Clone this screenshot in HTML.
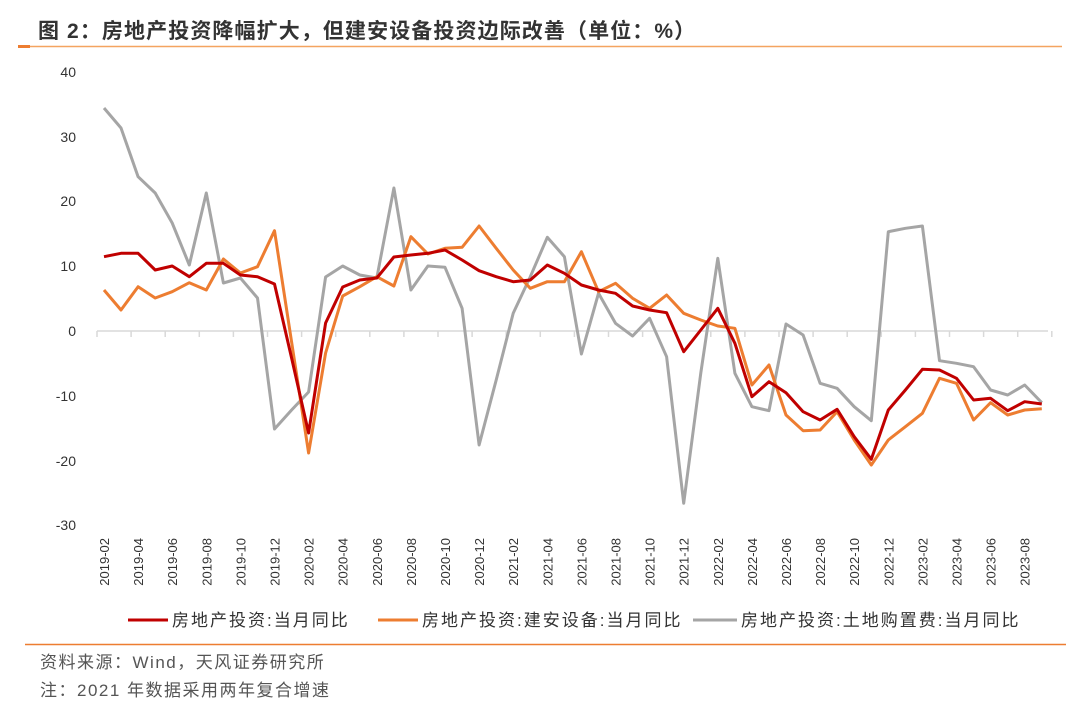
<!DOCTYPE html>
<html><head><meta charset="utf-8"><style>
html,body{margin:0;padding:0;background:#fff;}
svg{display:block;font-family:"Liberation Sans","Noto Sans CJK SC",sans-serif;}
</style></head><body>
<svg id="s" width="1080" height="709" viewBox="0 0 1080 709" xmlns="http://www.w3.org/2000/svg">
<text x="38" y="38" font-size="21" font-weight="bold" fill="#333" letter-spacing="1.1">图 2：房地产投资降幅扩大，但建安设备投资边际改善（单位：%）</text>
<line x1="18" y1="46.5" x2="1062" y2="46.5" stroke="#f4a460" stroke-width="1.5"/>
<line x1="18" y1="46.5" x2="30" y2="46.5" stroke="#ed7d31" stroke-width="3"/>
<g font-size="14" fill="#333" text-anchor="end">
<text x="76" y="77">40</text><text x="76" y="142">30</text><text x="76" y="206">20</text><text x="76" y="271">10</text><text x="76" y="336">0</text><text x="76" y="401">-10</text><text x="76" y="466">-20</text><text x="76" y="530">-30</text>
</g>
<line x1="97" y1="331" x2="1048" y2="331" stroke="#d9d9d9" stroke-width="1.5"/>
<g id="ticks"></g>
<g id="lab" font-size="13" fill="#333" text-anchor="end"></g>
<g id="series"></g>
<g font-size="17" fill="#333" letter-spacing="2">
<line x1="128" y1="620" x2="168" y2="620" stroke="#c00000" stroke-width="3"/>
<text x="172" y="626">房地产投资:当月同比</text>
<line x1="378" y1="620" x2="418" y2="620" stroke="#ed7d31" stroke-width="3"/>
<text x="422" y="626">房地产投资:建安设备:当月同比</text>
<line x1="693" y1="620" x2="737" y2="620" stroke="#a5a5a5" stroke-width="3"/>
<text x="741" y="626">房地产投资:土地购置费:当月同比</text>
</g>
<line x1="25" y1="644.5" x2="1066" y2="644.5" stroke="#ed7d31" stroke-width="1.5"/>
<text x="40" y="668" font-size="17" fill="#555" letter-spacing="1.5">资料来源：Wind，天风证券研究所</text>
<text x="40" y="696" font-size="17" fill="#555" letter-spacing="1.5">注：2021 年数据采用两年复合增速</text>
</svg>
<script>
var NS="http://www.w3.org/2000/svg";
function X(i){return 104+17.05*i;}
var red=[256.7,253.3,253.3,270,266,276.7,263.3,263.3,275,276.7,284,358,433,323,287,280,278,257,255,253.3,250,260,270.7,276.7,281.7,280,265,273.3,285,290,293.3,306,310,312.7,351.7,330,308.3,343.3,396.7,381.7,392.7,411.7,420,409.3,436.7,459.3,410,390,369.3,370,378.3,400,398.3,410.7,401.7,404];
var org=[290,310,286.7,298,291.7,282.7,290,259,273,266.7,230.7,342,453,353,296,286.7,276.7,286,236.7,254,248.3,247.3,226,248.3,270,288.3,281.7,281.7,251.7,291.7,283.3,298.3,308.3,295,313.3,320,326,328.3,385,365,415,430.7,430,411.7,440,465,440,426.7,413.3,378.3,383.3,420,402.7,415,410,408.7];
var gry=[108,128,176.7,193,223,265,193,283,278,298,429,410,392,277,266,275,278,188,290,266,267.3,308.3,445,380,313.3,276.7,237.3,256.7,354,293.3,323.3,336,318.3,356.7,503.3,373,258.3,373.3,406.7,410.7,324,335,383.3,388.3,406.7,420.7,231.7,228.3,226,360.7,363.3,366.7,390,395,385,402.7];
var g=document.getElementById("series");
[[gry,"#a5a5a5"],[org,"#ed7d31"],[red,"#c00000"]].forEach(function(s){
 var p=document.createElementNS(NS,"polyline");
 p.setAttribute("points",s[0].map(function(y,i){return X(i).toFixed(1)+","+y;}).join(" "));
 p.setAttribute("fill","none");p.setAttribute("stroke",s[1]);p.setAttribute("stroke-width","3");p.setAttribute("stroke-linejoin","round");
 g.appendChild(p);});
var t=document.getElementById("ticks");
for(var k=0;k<=28;k++){var x=97+34.1*k;var l=document.createElementNS(NS,"line");
 l.setAttribute("x1",x);l.setAttribute("x2",x);l.setAttribute("y1",331);l.setAttribute("y2",337);l.setAttribute("stroke","#d9d9d9");l.setAttribute("stroke-width","1.5");t.appendChild(l);}
var lab=document.getElementById("lab");
for(var k=0;k<28;k++){var m=2+2*k;var yr=2019+Math.floor((m-1)/12);var mo=((m-1)%12)+1;
 var s=yr+"-"+(mo<10?"0":"")+mo;var x=X(2*k)+5;
 var tx=document.createElementNS(NS,"text");tx.setAttribute("transform","translate("+x+",538) rotate(-90)");tx.textContent=s;lab.appendChild(tx);}
</script>
</body></html>
